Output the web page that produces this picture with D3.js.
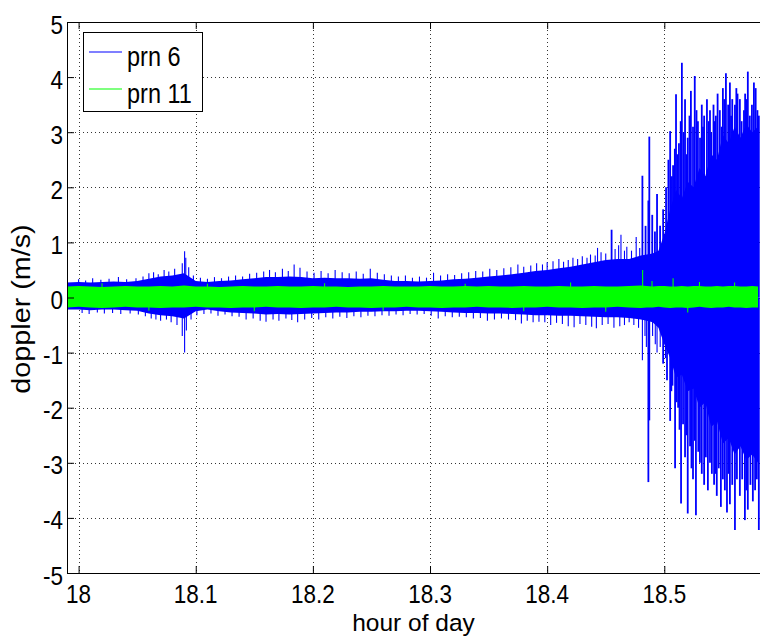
<!DOCTYPE html>
<html><head><meta charset="utf-8">
<script src="https://cdn.jsdelivr.net/npm/d3@7"></script>
<style>
html,body{margin:0;padding:0;background:#fff;}
svg{display:block;font-family:"Liberation Sans",Arial,Helvetica,sans-serif;}
</style></head>
<body><svg id="chart" width="760" height="637"></svg>
<script>
// ---- data ----
const hours = [17.99,18.00,18.01,18.02,18.03,18.04,18.05,18.06,18.07,18.08,18.09,18.10,18.11,18.12,18.13,18.14,18.15,18.16,18.17,18.18,18.19,18.20,18.21,18.22,18.23,18.24,18.25,18.26,18.27,18.28,18.29,18.30,18.31,18.32,18.33,18.34,18.35,18.36,18.37,18.38,18.39,18.40,18.41,18.42,18.43,18.44,18.45,18.46,18.47,18.48,18.485,18.49,18.495,18.50,18.505,18.51,18.515,18.52,18.525,18.53,18.535,18.54,18.545,18.55,18.555,18.56,18.565,18.57,18.575,18.58];
// prn 6 bulk envelope of the noise band
const prn6Upper = [0.27,0.28,0.27,0.28,0.29,0.28,0.30,0.34,0.38,0.40,0.44,0.30,0.28,0.30,0.31,0.33,0.35,0.37,0.37,0.38,0.37,0.35,0.36,0.35,0.35,0.34,0.35,0.32,0.30,0.30,0.29,0.30,0.31,0.33,0.34,0.36,0.38,0.40,0.42,0.45,0.48,0.50,0.53,0.56,0.60,0.64,0.68,0.70,0.70,0.76,0.78,0.80,0.85,1.15,1.60,1.95,1.80,2.10,2.00,2.35,2.20,2.60,2.50,2.95,2.80,3.10,2.90,3.15,3.00,3.10];
const prn6Lower = [-0.22,-0.22,-0.23,-0.22,-0.22,-0.23,-0.24,-0.29,-0.32,-0.34,-0.38,-0.25,-0.22,-0.25,-0.27,-0.28,-0.29,-0.31,-0.30,-0.31,-0.30,-0.29,-0.28,-0.27,-0.27,-0.26,-0.26,-0.25,-0.25,-0.24,-0.24,-0.25,-0.26,-0.27,-0.28,-0.28,-0.29,-0.29,-0.30,-0.31,-0.32,-0.32,-0.33,-0.33,-0.34,-0.35,-0.36,-0.36,-0.37,-0.40,-0.42,-0.45,-0.55,-0.85,-1.10,-1.45,-1.40,-1.70,-1.65,-2.00,-1.90,-2.35,-2.25,-2.65,-2.55,-2.85,-2.70,-2.95,-2.85,-3.00];
// prn 6 individual positive spikes
const prn6UpHours = [18.000,18.006,18.012,18.019,18.026,18.034,18.041,18.049,18.055,18.060,18.064,18.068,18.073,18.077,18.082,18.0885,18.0905,18.0915,18.094,18.098,18.104,18.110,18.116,18.122,18.128,18.134,18.140,18.146,18.152,18.158,18.163,18.168,18.174,18.179,18.184,18.189,18.195,18.201,18.207,18.213,18.219,18.225,18.231,18.237,18.243,18.249,18.255,18.261,18.267,18.273,18.279,18.285,18.291,18.297,18.303,18.309,18.315,18.321,18.327,18.333,18.339,18.345,18.351,18.357,18.363,18.369,18.375,18.380,18.386,18.391,18.396,18.400,18.405,18.410,18.414,18.418,18.422,18.426,18.430,18.434,18.437,18.441,18.443,18.446,18.450,18.455,18.458,18.461,18.463,18.466,18.468,18.472,18.476,18.479,
  18.4813,18.4840,18.4864,18.4872,18.4897,18.4920,18.4938,18.4964,18.4990,18.5015,18.5035,18.5050,18.5065,18.5075,18.5090,18.5100,18.5112,18.5125,18.5140,18.5150,18.5165,18.5177,18.5190,18.5200,18.5215,18.5227,18.5245,18.5260,18.5275,18.5287,18.5305,18.5320,18.5330,18.5340,18.5364,18.5380,18.5390,18.5400,18.5420,18.5430,18.5440,18.5455,18.5474,18.5490,18.5500,18.5512,18.5526,18.5545,18.5560,18.5570,18.5580,18.5603,18.5615,18.5625,18.5645,18.5660,18.5680,18.5690,18.5700,18.5713,18.5730,18.5748,18.5765,18.5780,18.5795,18.5807];
const prn6UpValues = [0.33,0.31,0.35,0.32,0.34,0.37,0.33,0.35,0.38,0.44,0.46,0.42,0.50,0.47,0.52,0.62,0.84,0.72,0.55,0.40,0.36,0.34,0.37,0.35,0.38,0.40,0.38,0.43,0.45,0.47,0.50,0.46,0.52,0.48,0.60,0.54,0.47,0.45,0.48,0.44,0.50,0.46,0.44,0.47,0.43,0.52,0.45,0.42,0.40,0.38,0.40,0.36,0.38,0.36,0.45,0.40,0.42,0.41,0.44,0.46,0.48,0.47,0.52,0.50,0.53,0.55,0.60,0.56,0.58,0.62,0.60,0.64,0.66,0.70,0.65,0.68,0.72,0.70,0.75,0.72,0.78,0.76,0.90,0.82,0.80,1.23,0.88,0.95,1.14,0.85,0.92,0.85,1.10,0.90,
  2.21,1.30,1.76,2.92,1.50,1.20,1.88,1.30,1.60,2.00,2.50,3.02,2.20,2.40,2.70,3.69,2.60,2.80,3.20,4.26,3.00,3.60,2.60,2.90,3.30,3.75,3.10,4.02,3.40,3.20,2.90,3.50,3.10,3.30,3.60,3.20,3.40,3.00,3.50,3.20,3.30,3.70,3.40,3.10,3.80,3.60,4.07,3.50,3.90,3.30,3.60,3.50,3.80,3.70,3.60,3.20,3.40,3.70,3.60,4.10,3.30,3.50,3.90,3.80,3.40,3.30];
// prn 6 individual negative spikes
const prn6DownHours = [18.003,18.009,18.016,18.022,18.029,18.036,18.044,18.051,18.057,18.062,18.066,18.070,18.075,18.079,18.084,18.0885,18.0905,18.092,18.096,18.101,18.107,18.113,18.119,18.125,18.131,18.137,18.143,18.149,18.155,18.160,18.166,18.171,18.177,18.182,18.187,18.193,18.199,18.205,18.211,18.217,18.223,18.229,18.235,18.241,18.247,18.253,18.259,18.265,18.271,18.277,18.283,18.289,18.295,18.301,18.307,18.313,18.319,18.325,18.331,18.337,18.343,18.349,18.355,18.361,18.367,18.373,18.378,18.383,18.388,18.393,18.398,18.403,18.408,18.413,18.418,18.423,18.428,18.433,18.438,18.442,18.447,18.452,18.457,18.462,18.466,18.470,18.474,18.478,
  18.4813,18.4835,18.4847,18.4864,18.4872,18.4900,18.4923,18.4938,18.4965,18.4990,18.5010,18.5023,18.5050,18.5060,18.5070,18.5092,18.5105,18.5118,18.5130,18.5143,18.5160,18.5177,18.5190,18.5200,18.5220,18.5232,18.5245,18.5260,18.5270,18.5290,18.5304,18.5320,18.5340,18.5355,18.5372,18.5390,18.5406,18.5425,18.5436,18.5448,18.5465,18.5483,18.5500,18.5517,18.5535,18.5548,18.5560,18.5580,18.5603,18.5620,18.5645,18.5665,18.5688,18.5700,18.5713,18.5735,18.5756,18.5775,18.5790,18.5807];
const prn6DownValues = [-0.28,-0.30,-0.27,-0.29,-0.28,-0.30,-0.29,-0.31,-0.34,-0.38,-0.40,-0.42,-0.40,-0.45,-0.50,-0.70,-1.00,-0.60,-0.40,-0.32,-0.30,-0.29,-0.33,-0.31,-0.34,-0.35,-0.40,-0.38,-0.42,-0.44,-0.40,-0.42,-0.38,-0.41,-0.45,-0.40,-0.37,-0.40,-0.36,-0.38,-0.35,-0.37,-0.34,-0.36,-0.33,-0.34,-0.32,-0.33,-0.31,-0.32,-0.30,-0.31,-0.30,-0.33,-0.38,-0.34,-0.36,-0.35,-0.36,-0.38,-0.37,-0.42,-0.40,-0.38,-0.40,-0.41,-0.47,-0.42,-0.45,-0.44,-0.45,-0.50,-0.46,-0.48,-0.52,-0.54,-0.48,-0.50,-0.53,-0.56,-0.50,-0.48,-0.55,-0.52,-0.50,-0.45,-0.50,-0.55,
  -1.14,-0.70,-0.90,-3.35,-2.23,-0.70,-0.85,-1.00,-0.90,-1.20,-1.10,-1.50,-2.24,-1.70,-1.60,-3.10,-1.90,-2.00,-2.40,-3.74,-2.30,-2.90,-2.50,-3.92,-2.70,-3.10,-3.30,-2.60,-3.95,-2.80,-3.00,-3.20,-3.40,-2.90,-3.50,-3.00,-3.20,-3.40,-3.20,-3.60,-3.10,-3.80,-3.30,-3.50,-3.90,-3.20,-3.75,-3.40,-4.22,-3.30,-3.60,-3.30,-4.04,-3.50,-3.85,-3.40,-3.70,-3.50,-3.30,-4.22];
// prn 11 envelope
const prn11Upper = [0.20,0.21,0.20,0.19,0.20,0.21,0.20,0.20,0.21,0.20,0.22,0.20,0.20,0.19,0.20,0.21,0.20,0.20,0.21,0.20,0.20,0.21,0.20,0.20,0.19,0.20,0.20,0.21,0.20,0.20,0.20,0.21,0.20,0.20,0.21,0.20,0.21,0.20,0.20,0.21,0.20,0.20,0.21,0.20,0.20,0.21,0.20,0.20,0.21,0.22,0.21,0.20,0.21,0.21,0.20,0.20,0.21,0.20,0.21,0.21,0.20,0.20,0.21,0.20,0.21,0.21,0.20,0.20,0.21,0.20];
const prn11Lower = [-0.18,-0.17,-0.18,-0.19,-0.18,-0.17,-0.18,-0.18,-0.19,-0.18,-0.18,-0.17,-0.18,-0.18,-0.19,-0.18,-0.18,-0.17,-0.18,-0.18,-0.19,-0.18,-0.18,-0.17,-0.18,-0.18,-0.19,-0.18,-0.18,-0.17,-0.18,-0.18,-0.19,-0.18,-0.18,-0.17,-0.18,-0.18,-0.19,-0.18,-0.18,-0.17,-0.18,-0.18,-0.19,-0.18,-0.18,-0.17,-0.18,-0.19,-0.18,-0.18,-0.17,-0.18,-0.19,-0.18,-0.18,-0.19,-0.18,-0.17,-0.18,-0.19,-0.18,-0.18,-0.17,-0.18,-0.18,-0.19,-0.18,-0.18];
const prn11SpikeHours = [18.02,18.06,18.11,18.15,18.21,18.26,18.33,18.38,18.42,18.45,18.4815,18.4895,18.5075,18.52,18.53,18.56];
const prn11SpikeValues = [0.26,-0.24,0.25,-0.25,0.26,-0.24,0.25,-0.25,0.27,-0.26,0.50,0.30,0.35,-0.27,0.28,0.27];
const xTicks = [18,18.1,18.2,18.3,18.4,18.5];
const xTickLabels = ["18","18.1","18.2","18.3","18.4","18.5"];
const yTicks = [-5,-4,-3,-2,-1,0,1,2,3,4,5];
const yTickLabels = ["-5","-4","-3","-2","-1","0","1","2","3","4","5"];
const seriesNames = ["prn 6","prn 11"];
const seriesColors = ["#0000ff","#00ff00"];

// ---- layout ----
const svg = d3.select("#chart");
const L = 67, T = 22, R = 762, B = 573;
const SY = 1.15; // vertical stretch of the glyphs in the reference
const x = d3.scaleLinear().domain([17.9901, 18.5834]).range([L, R]);
const y = d3.scaleLinear().domain([-5, 5]).range([B, T]);

svg.append("clipPath").attr("id","clip").append("rect")
  .attr("x",L).attr("y",T).attr("width",R-L).attr("height",B-T);

// grid
const grid = svg.append("g").attr("stroke","#000").attr("stroke-width",0.8).attr("stroke-dasharray","1,3");
grid.selectAll(".gx").data(xTicks).join("line")
  .attr("x1",d=>Math.round(x(d))+0.5).attr("x2",d=>Math.round(x(d))+0.5).attr("y1",T).attr("y2",B);
grid.selectAll(".gy").data(yTicks.filter(v=>v>-5&&v<5)).join("line")
  .attr("y1",d=>Math.round(y(d))+0.5).attr("y2",d=>Math.round(y(d))+0.5).attr("x1",L).attr("x2",R);

// series
const plot = svg.append("g").attr("clip-path","url(#clip)");
function drawSeries(color, upper, lower, spikeSets){
  const rows = hours.map((h,i)=>({h, hi:upper[i], lo:lower[i]}));
  const area = d3.area().x(d=>x(d.h)).y0(d=>y(d.lo)).y1(d=>y(d.hi));
  plot.append("path").datum(rows).attr("d",area).attr("fill",color);
  spikeSets.forEach(([sh,sv])=>{
    plot.append("g").selectAll("line").data(sh.map((h,i)=>[h,sv[i]])).join("line")
      .attr("x1",d=>x(d[0])).attr("x2",d=>x(d[0]))
      .attr("y1",y(0)).attr("y2",d=>y(d[1]))
      .attr("stroke",color).attr("stroke-width",d=>Math.abs(d[1])>1.15?1.8:1.1);
  });
}
drawSeries(seriesColors[0], prn6Upper, prn6Lower, [[prn6UpHours,prn6UpValues],[prn6DownHours,prn6DownValues]]);
drawSeries(seriesColors[1], prn11Upper, prn11Lower, [[prn11SpikeHours,prn11SpikeValues]]);

// axes (tick marks from d3 axes, inward)
const xAxis = svg.append("g").attr("transform",`translate(0,${B})`)
  .call(d3.axisBottom(x).tickValues(xTicks).tickFormat("").tickSize(-7));
const xTop = svg.append("g").attr("transform",`translate(0,${T})`)
  .call(d3.axisTop(x).tickValues(xTicks).tickFormat("").tickSize(-7));
const yAxis = svg.append("g").attr("transform",`translate(${L},0)`)
  .call(d3.axisLeft(y).tickValues(yTicks).tickFormat("").tickSize(-7));
[xAxis,xTop,yAxis].forEach(g=>{
  g.select(".domain").remove();
  g.selectAll(".tick line").attr("stroke","#000");
});
// tick labels (stretched vertically like the reference)
const fsTick = 22.5;
svg.append("g").selectAll("text").data(xTicks).join("text")
  .attr("transform",(d)=>`translate(${x(d)},603) scale(1,${SY})`)
  .attr("text-anchor","middle").attr("font-size",fsTick).text((d,i)=>xTickLabels[i]);
svg.append("g").selectAll("text").data(yTicks).join("text")
  .attr("transform",(d)=>`translate(63,${y(d)+11.5}) scale(1,${SY})`)
  .attr("text-anchor","end").attr("font-size",fsTick).text((d,i)=>yTickLabels[i]);

// box (left, bottom, top)
svg.append("path").attr("d",`M${R},${T+0.5}H${L+0.5}V${B+0.5}H${R}`)
  .attr("fill","none").attr("stroke","#000").attr("stroke-width",1);

// axis titles
svg.append("text").attr("x",(L+760)/2).attr("y",631).attr("text-anchor","middle")
  .attr("font-size",24.5).text("hour of day");
svg.append("text").attr("transform",`translate(30,309) scale(1,${SY}) rotate(-90)`).attr("text-anchor","middle")
  .attr("font-size",25).text("doppler (m/s)");

// legend
const lg = svg.append("g");
lg.append("rect").attr("x",83.5).attr("y",32.5).attr("width",119).attr("height",79)
  .attr("fill","#fff").attr("stroke","#000").attr("stroke-width",1);
seriesNames.forEach((n,i)=>{
  const yy = 52 + i*37;
  lg.append("line").attr("x1",89).attr("x2",122).attr("y1",yy).attr("y2",yy)
    .attr("stroke",seriesColors[i]).attr("stroke-width",1.2);
  lg.append("text").attr("transform",`translate(127,${yy+13.5}) scale(1,${SY})`).attr("font-size",23.5).text(n);
});
</script></body></html>
